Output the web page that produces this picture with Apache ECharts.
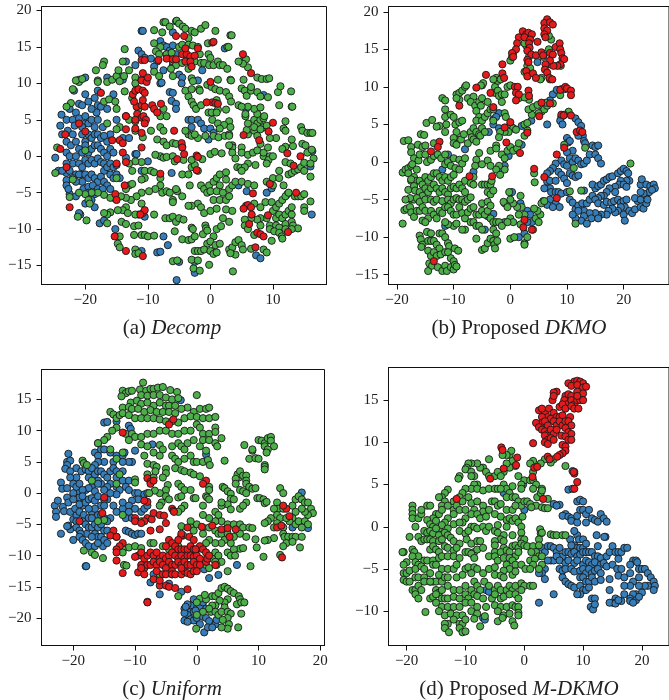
<!DOCTYPE html>
<html><head><meta charset="utf-8">
<style>html,body{margin:0;padding:0;background:#fff}#c{width:669px;height:700px}</style>
<script src="https://cdn.jsdelivr.net/npm/echarts@6/dist/echarts.min.js"></script></head>
<body><div id="c"></div>
<script>
const aBlue=[[-22,-1],[-21.5,-2.5],[-20.8,-2.5],[-20.3,-4.5],[-19.5,-4.2],[-19.5,-5],[-16,-2.5],[-15.5,-3],[-15,-2.5],[-14.5,-3],[-18.5,-5.2],[-17,-2],[-16,1],[-15.5,0.5],[-22,-3],[-21,-2.5],[-20,4.5],[-18.2,6],[-17.2,4],[-16.5,2],[-16,3],[-23,-2.3],[-18,9],[-22.5,-5.2],[-24.8,-0.2],[-24.3,-2],[-23.7,-2],[-23.7,3],[-24,4.2],[-23.8,5.7],[-23,5],[-22.8,3.5],[-23,2],[-23,0.5],[-23,-1],[-22.5,-2],[-22.5,0],[-22.3,1.5],[-22,3],[-22,5],[-22.5,6.5],[-21.7,4.2],[-21.5,6],[-21,7.2],[-20.5,7],[-20,8.5],[-19.5,7.5],[-19,6.5],[-18.5,8],[-18,7],[-17.5,6.8],[-21,5.2],[-20.5,4],[-20,5.5],[-19.5,4.5],[-19,5],[-18.5,4],[-18,5],[-20.5,3],[-20,2],[-19.5,3],[-19,2.5],[-18.5,3],[-18,3],[-17.5,2.5],[-17,2.8],[-21.5,2],[-21,1],[-20.5,0.5],[-20,1.5],[-19.5,0.5],[-19,1],[-18.5,1.5],[-18,1.5],[-17.5,1],[-17,0.5],[-16.5,0],[-21.5,0],[-21,-1],[-20.5,-1.5],[-20,-0.5],[-19.5,-1],[-19,-0.5],[-18.5,-1],[-18,-0.3],[-17.5,-0.8],[-17,-1],[-16.5,-1.5],[-16,-1],[-15.5,-1.5],[-15,-1.2],[-20,-2.5],[-20.5,-3.5],[-19.5,-3],[-19,-2.5],[-18.5,-3],[-18,-3.5],[-17.5,-2.8],[-17,-3.5],[-16.5,-4],[-16,-4.5],[-18.8,-4],[-18,-4.5],[-17.2,-4.5],[-23,-3.3],[-23,-4],[-22.7,-4.5],[-21.5,-3.5],[-21.5,-5.5],[-20,-6.5],[-19,-6],[-18.5,-7],[-20.8,-8],[-21,-7.8],[-17.7,-9.2],[-17,-8.8],[-21.8,9],[-21,10.5],[-20,10.8],[-16.5,6.5],[-15.5,8.5],[-13.5,5.5],[-15,5],[-14,2.5],[-13,2.5],[-13.5,-0.2],[-12,0.3],[-11.8,0.3],[-10,-0.7],[-11.5,14.5],[-11,14],[-10.5,13.5],[-9.5,13.4],[-8,15.8],[-7.5,15.2],[-7,15],[-6.5,14.5],[-6,15.2],[-5.5,14],[-8.5,13],[-9,12.3],[-12,12.5],[-13.5,13],[-11,17.2],[-10.8,17.2],[-6,17],[-5.5,18.5],[-7.5,11.8],[-6,12.5],[-5,11.2],[-4.5,10.8],[-4.6,10],[-2,10.4],[-8,10],[-7.8,10.1],[-6.5,8.8],[-6,8.7],[-6.2,7.6],[-5.5,7.2],[-5.5,6.5],[-3.5,5],[-3,5],[-2,5],[-1.5,4.5],[-1,3.8],[0,3.8],[0.5,3.2],[-0.3,2.3],[-3,4],[-14,10.5],[-14.5,11],[-16.5,10.8],[-6.2,-2.3],[-2.5,-16],[-2.5,-14.5],[-5,-14.5],[-11,-13],[-8.5,-13.2],[-8,-13.1],[-6.8,-12.2],[-7.5,-11],[-15.2,-10],[-5.4,-17],[4.5,-4],[5.8,-4.8],[9,-5],[9.8,-4.4],[12.3,-5.2],[7.3,-13.6],[8,-14],[5.7,6.5],[8.5,8.4],[16.2,-8],[16.3,0.7],[16,-1.4],[-11.5,-8],[-10.5,-8.3],[-11,-2],[2.3,14.8],[-1.3,11.8]];
const aGreen=[[-7.5,18.4],[-7.2,18.4],[-5.4,18.6],[-5,18.2],[-4.4,17.8],[-4,17.5],[-3,17.2],[-2.5,17],[-1.5,17.5],[-0.8,18],[0.8,17.2],[-9,17.3],[-7.7,17],[-6.5,17.8],[-3.5,16.2],[3.2,16.6],[3.4,16.6],[-9,15.5],[-8,15],[-8.7,14.4],[-8.2,14],[-7,14],[-6.2,14.2],[-5,15],[-4.5,15.3],[-3.5,15.3],[-2.8,15.2],[-2,15],[-1.7,14],[-0.4,15.5],[-0.3,14],[0,13.5],[-2.5,13],[-1.5,12.8],[-1,12.8],[-0.2,12.5],[0.5,12.5],[1.2,13],[1.5,12.5],[2,12.5],[2.7,12],[2.7,15],[2.9,15],[-6,13],[-5.5,12.5],[-6.3,12],[-4.5,12.8],[-3.5,12],[-13.7,14.7],[-14,13],[-17,13],[-17.2,12.5],[-18.3,11.8],[-21,10.2],[-21.5,10.4],[-20.5,10.6],[-18,10.4],[-18,10.2],[-16.5,10.2],[-15.7,10.5],[-15,11],[-14.7,11.8],[-14.5,10.3],[-13.8,11],[-13,11.8],[-12,10.8],[-12,10],[-11,10.5],[-9,11.6],[-8.2,11],[-6,11],[-3,10.7],[-2.8,10.3],[-1.8,9.2],[-1.7,9],[-0.5,9.8],[0.2,9.5],[0.8,9.2],[1.5,9],[2.5,8.8],[3,8.2],[3.3,7.5],[-22,9.2],[-22.3,7.3],[-23,6.8],[-17,7.5],[-16.2,7.8],[-15.2,7.5],[-13.7,8.9],[-12.5,8],[-11.5,6.5],[-3.5,8.2],[-3,7.5],[-2.7,7],[-2.3,6.5],[-1.5,7],[-0.3,6],[0.2,6],[1.2,6.4],[2.5,6.4],[-16.5,4.5],[-15,6.5],[-14.5,4],[-13,5],[-12,4.8],[-15,3.7],[-12,3.5],[-10.8,2.6],[-9.5,3.5],[-8.5,2.3],[-7.5,2],[-7,1.5],[-6,1.8],[-5.5,1.7],[-4.5,1.3],[-3.5,3],[-3,2.8],[-2,2.5],[-0.8,2.8],[0.5,2.8],[1.3,2.6],[2.3,2.8],[3,3],[3.5,1.5],[3.5,1.2],[-8,0],[-8.8,0.2],[-7.5,-0.2],[-7,-0.1],[-6,0],[-5.7,-0.7],[-4.3,-0.5],[-3,-1.5],[-2.5,-1.2],[-1.3,-0.4],[0,0.3],[0.7,0.6],[1.8,0.4],[3.5,0.5],[4,-0.3],[4.3,-1.5],[4.8,-1.6],[5,1.2],[5,0.5],[6,0.2],[6.8,0.5],[7.5,0.8],[8.5,0],[9.5,0],[9.3,-0.5],[9,-1],[7.2,-1.2],[6,-1],[5.5,-1.5],[5,-2],[-11,-0.8],[-12,-0.7],[-13,-1],[-12.5,-2],[-10.5,-2],[-9.5,-2],[-9,-2.2],[-10.5,-3],[-11,-3.2],[-13,-4],[-12.5,-3.8],[-8,-3],[-8,-4],[-7.7,-5],[-7,-4.8],[-6.5,-5],[-8.8,-4.5],[-9.8,-4.8],[-11,-5],[-11.8,-5.5],[-12.7,-6],[-13.5,-5.7],[-14.3,-5.5],[-15.5,-5.7],[-16,-5.7],[-17,-5.3],[-18,-5],[-19,-5],[-20,-5.2],[-21,-5],[-22.5,-5.6],[-19.5,-6],[-19.3,-6.5],[-6,-6],[-5.3,-4.8],[-4.5,-2.5],[-3.5,-2.5],[-3.3,-4],[-1.5,-4],[-1,-4.5],[-0.5,-5],[-0.2,-4],[0.5,-3.5],[1,-3],[1.5,-2.5],[2.5,-2.2],[2.5,-3.2],[1.5,-4],[0,-4.8],[1,-4.8],[2,-5],[3,-4.5],[3.5,-4],[4,-3.5],[5,-3.5],[6,-3.8],[7,-4],[0.5,-6],[1.5,-6],[2.5,-6],[3,-5.5],[-2,-6.5],[-3,-6.8],[-3.5,-6.8],[-1.5,-7],[-1,-7.8],[0,-7.5],[1,-7.2],[2.5,-7.3],[3.5,-7.5],[-9,-8],[-13.5,-7],[-14,-7.4],[-14.8,-7.4],[-13.2,-7.8],[-12,-8],[-16,-7.7],[-16.5,-8],[-17,-7.8],[-21.2,-8.3],[-19.8,-8.8],[-16.5,-9.2],[-14.2,-9],[-13.5,-9.3],[-12.2,-9.6],[-11.5,-9.5],[-7.2,-8.5],[-6.5,-8.5],[-6,-8.3],[-5.5,-9],[-5,-8.5],[-4.3,-8.7],[-3,-9.8],[-2.8,-10],[-0.8,-9.5],[-0.7,-9.9],[1,-10],[1.7,-9.6],[2,-8.5],[3,-9],[-5.7,-10.3],[-14.5,-11],[-14.8,-12],[-14.5,-12.5],[-12,-12.8],[-12.2,-10.8],[-11,-10.8],[-10.5,-10.8],[-10,-11],[-9,-10.9],[-4.5,-11.4],[-3.5,-11.5],[-3,-11.4],[-2.5,-11],[-1.2,-10.7],[-0.5,-10.2],[0.5,-11],[-0.5,-12],[0,-11.7],[0.8,-12.2],[1.5,-12],[-2.5,-13],[-2,-13],[-1.5,-13],[-1,-12.8],[0,-13],[0.5,-13.4],[1,-13.2],[3,-12.8],[3.5,-12.5],[4,-11.8],[4.5,-11.5],[5,-12.2],[5.2,-12.8],[6.5,-12.7],[4,-13.5],[3.2,-13.3],[8.5,-12.8],[9,-13.2],[-6,-14.4],[-5.3,-14.3],[-3,-14.2],[-2,-14.3],[-2.7,-15.4],[-1.7,-15.7],[-0.2,-14.9],[3.6,-15.8],[-12,-13.4],[-11.5,-13.3],[-5.5,-4.5],[7,-6.5],[8,-7],[8.8,-6.3],[9.8,-6.3],[10,-7.5],[10.5,-7],[11,-6.5],[11.5,-6],[12,-5.5],[12.5,-5],[13.5,-5.5],[14,-5.5],[14.5,-5.5],[15,-5.2],[16,-6.2],[15,-7],[15,-7.5],[10.5,-8.5],[11,-8],[11.5,-8.5],[12,-8],[12.5,-7.5],[13,-7],[13,-8],[9,-8.5],[8,-8.5],[7.5,-8.7],[6.5,-8.5],[5.5,-8.7],[5.5,-9.5],[6,-10],[8,-9.5],[9.5,-9.5],[10.5,-9.5],[11,-9.8],[12,-9.3],[13,-9],[13.2,-9.5],[14,-9.9],[9.5,-10],[10.2,-10.3],[11,-10.5],[11.4,-11],[11.5,-11.3],[9.8,-11.6],[13,-10],[12,-10],[7,-10.8],[9,-3.5],[10,-3],[11,-3],[11.7,-4],[10,-4],[12.5,-2.5],[13,-2.3],[13.5,-2],[14,-1.8],[14.5,-1.5],[15,-2],[16,-2.8],[15,-0.9],[16.5,-0.3],[16,-1],[15.5,0.5],[16.2,0.9],[14.7,1.7],[15.2,1.5],[13.2,1.4],[12,1.3],[11.5,1],[10,0],[12,-0.8],[12.8,-1],[11,-2],[10.5,2.5],[12,4.8],[11.7,3.8],[12,3.5],[13,2.3],[14.5,4],[14.7,3.5],[15.5,3.2],[16,3.2],[16.3,3.2],[6,3],[7,3.5],[5.8,3.6],[5.6,5.5],[5.6,5.8],[7,5],[7.5,4.5],[8,5],[8.5,5.2],[8.5,4],[9,4.2],[6,4.5],[7,4],[8,3.7],[8.6,5.5],[7.5,5.8],[7,6.5],[8,6.7],[6,6.8],[4.5,7],[5,6.8],[3,1.5],[5,9.3],[5.5,9],[5.8,8.3],[6.5,9],[6.5,9.5],[7.5,8.8],[8,8.2],[9.2,8.1],[10.8,8.8],[11.2,9.6],[12.9,8.9],[11,7],[13,6.8],[13.1,6.8],[7.5,10.8],[8.2,10.6],[9,10.6],[9.4,10.7],[3.2,10.5],[3.3,10.4],[5.3,10.5],[6,12.2],[5,13],[5.7,13.3],[5.2,12.7],[4.5,13],[1.2,10.5],[-4,9],[-3,9.2],[-7.5,6.5],[-8,5.5],[-7,5.5],[-8,4],[-7.5,3.5],[-4,3.5],[-2.5,3],[1,7.7],[1,6],[0.3,5],[1.2,4.5],[3,4.8],[2.2,4.3],[3.2,4],[1.5,3.8],[3,2.8],[-15,-3],[-13.5,-4.5],[-11,-6.5],[-4.5,-5.5],[-2,-2],[-3,-0.5],[-6,-6.3],[8.5,0.5],[9.2,1.2],[8,1.7],[7.5,2.8],[9.5,2.5],[-22,-3.2],[-24.5,1.2],[-24.8,-2.3],[-20,0.8]];
const aRed=[[-24,1],[-23.2,3],[-23,-1.5],[-22.5,-7],[-20,3.4],[-21,4.5],[-17.5,8.7],[-15.7,2.2],[-14.5,2.2],[-14,1.8],[-13.5,-0.8],[-14,0.5],[-15,-1],[-15.2,-5.2],[-15,-6],[-13.7,-4],[-15.3,-11],[-13.5,-13],[-10.8,-13.7],[-10.8,-7.8],[-10.5,-7.4],[-11.2,-8],[-13.5,3.7],[-13.5,5.5],[-12,3.8],[-11,3.2],[-11.7,5.8],[-11,5.3],[-10.7,5.5],[-10.3,5],[-12,5],[-10.5,4.5],[-11.8,6.8],[-11,7],[-10.5,6.8],[-9.3,7],[-9,6.5],[-8.5,6],[-7.9,7.2],[-12.4,8.5],[-12,9],[-11.5,9.2],[-10.8,9],[-10.5,8.7],[-10.8,7.7],[-12.2,7.5],[-11,10.4],[-10.2,10.2],[-10,10.8],[-10.8,11.4],[-8.3,13.2],[-7,13.4],[-6,13.3],[-5.5,13.3],[-4.5,14],[-3.8,14],[-4,14.8],[-3.2,13.7],[-2.5,13.8],[-4,13],[-3.2,13],[-3,12.3],[-5.5,16.5],[-4.2,16.5],[-2,14.8],[0.3,15.6],[0.5,15.7],[-11,13.2],[-10.5,13.2],[5.2,14],[6.5,11.4],[0,10.2],[0.3,7.4],[0.8,7.3],[1.2,7.2],[-0.6,7.4],[-5.8,3.5],[-4.6,1.8],[-4.5,1.2],[-4.2,0.3],[-5.3,-0.4],[-2.2,0.1],[-2,-0.1],[-2.2,-1.9],[-8,-2.4],[-11,1.2],[5.3,2.9],[7.8,2.2],[9.3,3.4],[10,4.6],[12.3,0.4],[13.3,-1.3],[14.4,0],[13.7,-5],[5.7,-6.8],[6,-6.7],[6.5,-7],[6.6,-8],[6.8,-5.1],[5.3,-7.2],[9.2,-8.1],[9.5,-3.8],[12.4,-10.4],[7.5,-10.5],[8,-10.7],[8.5,-11],[7.2,-12.5],[6.2,-9.3]];
const bBlue=[[9,9.7],[9.6,9.7],[7.5,9],[7,8.2],[9,6],[8.8,5.5],[9.2,5],[11.5,5.8],[12,5.3],[12.5,4.8],[12.8,3.5],[13,2.8],[13.2,2.5],[10,3.2],[10.2,2.6],[10.5,2.8],[11,1.5],[10,1.3],[10.5,0.5],[9,0.2],[9.5,-0.3],[10,-0.5],[11,0],[11.5,0.5],[12,0.2],[12.5,-0.3],[13,-0.2],[13.5,0.2],[14,1],[14.5,2.2],[15,2],[15.5,2.2],[15,1],[15.5,0.5],[16,-0.2],[8,-0.2],[7.5,-0.8],[7,-1.2],[6.5,-1.5],[8.5,-1.3],[9,-1.7],[9.5,-2.2],[10.5,-1.5],[11,-1.8],[11.5,-2],[12,-1.8],[6.5,-2.6],[7,-2.5],[8,-2.5],[7,-3.5],[7.2,-4],[8,-4],[8.5,-4],[9,-4.2],[6,-3.5],[7,-5],[6.5,-5.7],[8,-5.5],[8.7,-6],[5.8,-5.2],[10.5,-5],[11,-5.4],[11.5,-6.3],[12,-5.8],[13,-3.8],[12.7,-5.5],[13,-6.5],[12,-6.5],[13.5,-5.5],[14,-5],[14.5,-4.5],[15,-3.5],[14.5,-3],[15.5,-3.2],[16,-3],[16.5,-2.5],[17,-2.3],[17.5,-2],[18,-1.9],[19,-1.5],[19.5,-1.2],[20,-0.9],[20.5,-1.2],[20.8,-1.5],[21,-2.5],[20.5,-2.5],[19.5,-2.5],[19.2,-3],[20,-3],[20.5,-3.3],[18.5,-3.3],[18.5,-4],[17.5,-3.5],[17,-4],[16.5,-4.5],[16,-4.5],[15.5,-4.8],[15,-5],[15.5,-5.5],[16.5,-5.7],[17,-5.3],[17.8,-5.4],[18.3,-5.2],[19,-5],[19.5,-5.4],[20,-5.2],[20.5,-5],[20.2,-6],[19.5,-6],[19,-6.5],[18.5,-6.7],[18,-6.2],[17.3,-6.5],[17,-7],[16,-7],[15.5,-7.2],[15,-6.8],[14,-6.8],[14.3,-7.5],[13,-7.2],[12.5,-7.8],[11.5,-7.5],[11,-7],[13.5,-8.2],[15.5,-7.5],[20,-7],[20.2,-7.8],[21,-6.5],[21.5,-6.8],[22,-6.3],[22.5,-5.2],[22,-4.8],[23,-5],[23,-6],[23.5,-6.2],[24,-5.5],[24,-4.5],[24.5,-4],[23.5,-4.2],[23,-4],[23,-3],[23.2,-2.3],[24,-3],[24.7,-3.2],[25.3,-3],[25.5,-3.5],[25,-3.7],[24.2,-5],[12,3.5],[10,-2.8],[10,-4],[7.5,-6],[0.5,14.5],[4.8,13.3],[7,13],[8.2,9.6],[6.5,5],[-2,6.5],[-3,5.7],[-3,5],[-2.5,6],[-3.8,4],[-2,4.5],[0.5,4.5],[2,4.8],[3.7,5.5],[-8,1.7],[2,2.3],[-11,1],[-6.5,-1.3],[-1,-0.5],[-1.5,-1],[-0.3,0.8],[-12,-1],[-11.5,-8.5],[-3,-6.9],[-4,-7.2],[-1,-8],[-4.5,-9],[1.5,-10],[2.5,-9.5],[3.8,-8],[3,-6.5],[1.8,-5.5],[3.5,-7],[0.3,-4],[3,-8]];
const bGreen=[[-19,-1.4],[-18.5,-1],[-18,-0.8],[-18,-1.5],[-17.5,-0.5],[-18.8,2.8],[-18,2.9],[-17.5,2],[-17.5,1.3],[-17,0.5],[-17.3,-0.3],[-16.5,-1],[-16.2,0.2],[-16,1],[-16.3,2.3],[-15.8,3.7],[-15.2,3.6],[-15.5,2],[-15,2.2],[-15,1],[-14.7,0],[-14,0.3],[-13.5,0.8],[-13.5,2.5],[-12.8,1],[-12.2,0.5],[-11.5,1],[-11.5,-0.3],[-11,0],[-10.5,-0.5],[-10,0.5],[-9.7,-0.8],[-9,-1],[-9,0.3],[-8.5,-0.2],[-8,0.5],[-17,-2],[-17.5,-2.5],[-16.5,-2.5],[-16,-2.5],[-15.5,-3],[-15,-2],[-14.5,-2.5],[-14,-2],[-13.5,-1.5],[-13,-1.5],[-12.5,-2],[-12,-2.5],[-11.5,-2],[-11,-2.5],[-10.5,-2],[-10,-1.7],[-18,-3.7],[-17,-3.2],[-16.8,-3.8],[-16,-4],[-15.5,-4.5],[-15,-3.5],[-14.5,-4],[-14,-3.5],[-13.5,-3],[-13,-3.5],[-12.5,-4],[-12,-3.5],[-11.5,-4],[-11,-4.3],[-10.5,-3.5],[-10,-3.3],[-9.5,-3.5],[-9,-3],[-8.5,-3.5],[-8,-2.5],[-8,-4],[-17.5,-5],[-17,-5],[-16.5,-4.8],[-16,-5.3],[-15,-5],[-14,-5],[-13.5,-5.3],[-13,-5],[-12,-5.2],[-11,-5],[-10.5,-5.5],[-10,-5],[-9.5,-4.8],[-9,-5],[-8.5,-5],[-8,-5.3],[-7.5,-5],[-7,-4.7],[-18.7,-6.4],[-18.3,-6.2],[-17.7,-6],[-17.5,-6.7],[-17,-7.3],[-16.5,-6.5],[-16,-6.5],[-15.5,-6],[-15,-6.5],[-14.5,-7.5],[-14,-6.5],[-13.5,-7],[-13,-7.5],[-12.5,-6.5],[-12,-6.8],[-11.5,-6],[-11,-6],[-10.5,-6.5],[-10,-7],[-9.5,-7],[-9,-6],[-8.5,-6.8],[-8,-7.5],[-7.5,-6.7],[-7,-6.2],[-6.5,-6],[-6,-7],[-5.5,-7],[-5,-6.5],[-4.5,-7],[-4,-6.5],[-3.5,-7.5],[-19,-8.2],[-15.5,-7.8],[-15,-8],[-10,-8.5],[-9.5,-8.2],[-11,-8.3],[-11.5,-8],[-8,-9],[-8.5,-9],[-7,-8],[-6.5,-8],[-6,-8.5],[-5.5,-8.5],[-5,-9],[-3,-8],[-3,-9],[-2.5,-8],[-2,-8],[-1.5,-8.5],[-14.7,-9.3],[-14,-9.5],[-16,-9.8],[-15.8,-10.3],[-15.5,-11],[-15.7,-11.3],[-14.5,-10.5],[-14,-10.5],[-13.5,-10.5],[-13,-11],[-12.5,-9.5],[-12,-9.5],[-11.5,-10],[-11,-10.8],[-10.8,-11.2],[-12.5,-11.5],[-14.5,-11.8],[-14,-12.5],[-13.5,-12],[-13,-12.5],[-12.3,-12.3],[-11.5,-12],[-11,-12],[-9.8,-11.5],[-9.2,-11.8],[-10.5,-12.8],[-10,-13.2],[-14.5,-14.5],[-14.3,-13.5],[-13.8,-13.8],[-12.8,-14],[-12,-14.5],[-11.5,-13.8],[-11.2,-14.5],[-10.5,-14],[-10,-14.3],[-9.8,-13.7],[-9.5,-13.9],[-6,-10.2],[-5,-11.7],[-4.5,-11.5],[-4,-10.8],[-3.5,-10.2],[-3,-10.5],[-2.8,-11],[-2.7,-11.5],[-2.5,-9.5],[-2.3,-10.5],[0,-10.2],[0.7,-10],[2.5,-10.8],[2.5,-11],[3,-10],[4,-9],[4.5,-7.5],[5.3,-7],[5,-8],[4.8,-6.5],[4.2,-6.2],[2,-6],[1.2,-6],[0.5,-5.5],[0,-5],[-1,-5.5],[-1.2,-5.3],[-0.5,-6],[-0.2,-4],[1.8,-4.5],[2.5,-7],[1.5,-7],[0,-7.5],[0.5,-8],[-0.5,-8],[1.8,-8.3],[5.5,-5.5],[6,-5.2],[11.5,-8.2],[-12,8.5],[-11.5,8.2],[-11.5,7],[-11.5,6],[-11.3,5],[-12.5,4.8],[-13,4.7],[-14.8,5.2],[-13.8,5.6],[-11.5,4],[-10.5,6.3],[-10,6],[-9.7,5],[-9,5.3],[-8.5,5.5],[-9.5,4],[-9,3],[-10,3.2],[-10,2.5],[-9.5,2.3],[-8.7,3],[-8.2,3.7],[-7,4],[-6.8,3.3],[-6.5,4.5],[-6,4],[-5.5,3.7],[-5.3,3.5],[-5,4.5],[-4.5,4],[-7.5,2.5],[-6.5,3],[-6,2.7],[-9.5,9],[-9,9.2],[-9,8.3],[-9.5,8.5],[-8.5,9.5],[-8,10],[-7.8,10.2],[-7.5,8.5],[-6.5,8.7],[-7,8],[-6.2,7.5],[-5.5,8],[-5,8.5],[-5.2,7.5],[-6,6.8],[-5.5,6],[-6,5.5],[-5,5.5],[-4.5,6],[-4,6.5],[-3.5,7],[-3,7],[-5,10.2],[-4.8,10.5],[-5.2,10.2],[-2.7,10],[-2.5,11.2],[-2.2,10.8],[-3,11],[-1.7,11],[-2.7,9.2],[-2.2,9.5],[-2,8.8],[-1.5,9],[-1,9],[-0.5,10],[0,10.2],[-4,8],[-3,5.5],[-1.5,8],[-1,6.5],[-0.8,6],[0,5],[0.5,4.5],[1,4.3],[-0.3,4],[-1,4],[-1.8,4],[-2,3.3],[-2.5,2.2],[-3.5,1.5],[-2.5,1.8],[-1.5,1],[-1,0.5],[-0.5,1.5],[0,2],[0.5,1.5],[1.2,1.8],[1.5,2.5],[-1,-1],[-2,-0.5],[-2.5,-1],[-1.8,-1.7],[-5.5,1.2],[-6,0.3],[-6.2,-0.5],[-5,-0.3],[-4,0.2],[-3.5,-0.5],[-6.5,-2],[-7,-2.8],[-6.5,-3],[-5,-3],[-4.5,-3],[-4,-3],[-3.5,-3],[-3.3,-2.5],[-4,-4],[-3.5,-4.3],[-3,-3.8],[-5,-5.5],[-4,-5.3],[-3.5,-5.8],[2.5,3.5],[3,4.2],[2.5,5],[3,5.2],[3.8,6.3],[3.2,7],[4,7.3],[4.8,7.6],[5.5,6.7],[5,6.5],[6,7],[6.5,7.5],[3.3,8.3],[8.8,8.9],[10.3,6.7],[9.5,6.3],[9.5,2.3],[12.5,-3.8],[13.2,1.9],[11.2,-0.8],[10.5,-3.9],[21.2,-0.2],[2.5,12],[3,12.8],[3.3,14],[3.5,12.5],[5.5,11.2],[5.3,11],[7,11],[5.8,14],[7.2,16.3],[6.8,16.8],[6.8,15],[2.8,15.5],[2.5,15.8],[0,13.5],[0.3,14],[8.9,12.8],[9.3,13.7],[1.5,8.5],[2.5,8.6],[7.5,7.8],[6.3,7.9],[4.2,-1.5],[4.3,-2.7],[-17.5,-2.3],[-17.7,-4.8],[-18.5,-5]];
const bRed=[[6.5,19],[6,18.5],[7,18.6],[7.5,18.3],[6,17.8],[6.5,17.5],[6,17],[6.2,16.6],[2.2,17.4],[2.8,17],[3.2,17.2],[3.8,17],[1.5,16.6],[2.5,16.6],[3.5,16.3],[1.2,15.8],[3.3,15.8],[3.4,15.2],[4.8,16],[1,15],[0.3,14.5],[0.5,14],[3,14.8],[3.7,14.3],[4.5,14.2],[5.5,14.6],[5.8,14.2],[7,14.5],[7.5,14.3],[8,15.3],[8.7,15.8],[8.8,15],[9,14.5],[9.2,13.8],[9.5,13.7],[8.8,13],[8.3,12.8],[7.6,12.8],[7,13.5],[6.2,13],[6.1,12.3],[6.5,11.9],[3,13.6],[3.2,13.3],[2.8,12.1],[3,11.4],[4,11.8],[4.5,11.2],[6.9,11.2],[7.4,11],[-1.4,13],[-1.4,11.8],[-1.1,11.2],[-4.3,11.6],[-3.5,9.2],[0.8,10],[1.3,10],[1,9.2],[1.5,9],[1,8.2],[3.2,9.5],[3.3,8.8],[-6,9.9],[5.5,7.9],[5.1,6.1],[7,7.8],[8.8,9.6],[9.7,10],[10,9.8],[10.7,9.5],[10.7,8.9],[-9,7.5],[-3,7.3],[0,5.3],[-1,4.6],[3,3.9],[-0.7,2.6],[1.7,1.2],[8.2,1],[9.5,1.9],[-7.2,-1.9],[-3.2,-1.9],[4.2,-0.9],[6,-2],[8.2,-4.8],[2.5,-7.7],[2.3,-8.7],[3.8,-9],[-13.5,-13.2],[-12.5,2.7],[-12.8,2],[-14,1.4],[9,6.3],[9.4,6.2],[10.7,6.2],[11.7,4],[12.3,4.2],[12.7,4]];
const cBlue=[[-20,-4.2],[-20.5,-5.8],[-19.5,-3.5],[-18.5,-2],[-17,-3],[-16,-3.5],[-15.5,-3.5],[-17.8,-6.5],[-16.5,-6.5],[-16,-7],[-15.2,-8.5],[-19.5,2.5],[-19,0.2],[-20,0],[-17,1],[-16.5,0.3],[-15.5,1.5],[-14.5,-1],[-13.5,-2],[-13,-3],[-12,-2.5],[-13,1],[-14,1.5],[-15,-1],[-16,2],[-18,0.5],[-17.5,0.8],[-19,-0.7],[-23,-2],[-22.5,-1.2],[-22.8,-3],[-22.8,-3.8],[-20.8,6.3],[-21,5],[-20.5,5.2],[-21,4.5],[-21.3,3.9],[-20.5,3.5],[-19.5,4],[-18.7,3.5],[-18,3.8],[-17.5,3.5],[-20.5,2.5],[-20,1.5],[-19.5,1],[-19,1.5],[-18.5,0.5],[-22,1.7],[-21.8,0.7],[-21,0.8],[-21,-0.7],[-20.8,-1.5],[-20,-1],[-21.7,-2.2],[-21.5,-2.9],[-20.5,-3],[-19.7,-2.5],[-19,-1.8],[-19,-3],[-18.5,-0.5],[-18,-1.5],[-17.5,-1],[-17,-0.8],[-16.5,-1.2],[-16,-0.5],[-15.5,-2],[-15,-2],[-16.5,-2.5],[-17.5,-2.5],[-18.3,-3.5],[-17.5,-4],[-17,-4],[-18.5,-4.5],[-18,-5],[-19.5,-4.5],[-19.5,-5.5],[-19,-6],[-18.8,-6.5],[-17.5,-5.5],[-17,-5.5],[-16.5,-5],[-16,-5.5],[-15.5,-5],[-15,-4],[-14,-4],[-14.5,-4.5],[-22,-6.5],[-20.8,-5.2],[-21,-5.3],[-20,-7.5],[-19,-7],[-18.5,-7.5],[-18,-8],[-17.5,-8.5],[-17,-7],[-16.5,-8.5],[-16,-8],[-15.5,-7],[-15,-7.5],[-15,-6],[-14.5,-6],[-14.5,-8],[-18,-11.7],[-17.9,-11.7],[-16.5,6.5],[-16,6],[-15.5,7],[-15,7],[-14,6.5],[-13,6],[-12,6],[-11.7,6.5],[-13.5,5],[-15,5],[-16,5],[-16.5,4.5],[-17,4],[-17.5,2.5],[-16.5,3],[-16,3.5],[-15.5,3.5],[-15,3],[-14.5,2.5],[-14,3.5],[-13.5,4],[-13,3.5],[-12,3.5],[-14.5,1],[-15,0.5],[-16,1.5],[-13,2.5],[-12,2],[-11,2],[-11.5,1],[-12.5,0.5],[-13,-0.2],[-14,0],[-11,0.5],[-10,0],[-9.5,0],[-8.5,-0.2],[-8,0],[-9.5,-1],[-10.5,-1.2],[-12,-1.5],[-11,-2],[-10,-2.5],[-9,-3],[-8.5,-2.5],[-8,-2],[-11,-3],[-11.5,-4],[-10.5,-4],[-11.5,-6],[-11,-6.2],[-10.5,-6.5],[-10,-6.7],[-9.5,-6.5],[-9,-6.5],[-10.5,5],[-10,6.8],[-11,5],[-12,5],[-15,11.3],[-14.5,11.4],[-13,11.5],[-11,10.8],[-10.7,10.3],[-7.2,7.8],[-2.6,14.9],[1.5,6.2],[17,0.1],[15.5,-5.5],[17,-5],[18,-5.6],[2,-13.6],[3.5,-13.1],[6.5,-11.5],[-6,-16.2],[-7.5,-14.3],[-4.5,-14.5],[-7,-13],[-2.5,-15.8],[5,-15.3],[1,-10.8],[1.2,-12.2],[-0.5,-17],[0,-18],[-1,-18],[-1.5,-17.8],[-2,-18.5],[-1,-19],[-0.5,-19],[0.5,-18.2],[1,-17.5],[1.5,-18.5],[-1.5,-19.5],[-1,-20.2],[-0.5,-20.4],[0,-20],[1,-19.8],[1.5,-20],[2,-20.5],[3,-21],[3.2,-20.3],[-2,-20.4],[-1.5,-20.6],[0.5,-21],[1.2,-22.3],[1.8,-21.5],[2.5,-21.5],[-2,-19.2],[-1.8,-18.2],[-0.2,-18.8]];
const cGreen=[[-8.7,17.7],[-12,16.4],[-11.5,16],[-11,16.3],[-10.5,16.4],[-9.2,16.6],[-8.2,16.4],[-7.5,16.7],[-7,16.7],[-6.3,16.9],[-5.5,17],[-4.3,16.5],[-3.2,16.2],[-12.2,15.5],[-9,15.7],[-8,15.6],[-7,15.7],[-6,15.7],[-5,15.3],[-4,15],[-3,15.2],[0,15.7],[-10.7,14.5],[-9.7,14.8],[-9,14.3],[-8,14.5],[-7,14],[-6,14.5],[-5,14],[-4.5,14],[-3.5,14],[-1.5,13.7],[-2.5,13.5],[-12,13.7],[-11,13.8],[-10.5,13.5],[-9.5,13.5],[-8.5,13],[-7.5,13.3],[-6.5,13],[-5.5,13],[-4.5,13],[-3.5,12.8],[-0.5,13],[0.5,13.5],[1.5,13.5],[2,13.7],[-14,13],[-13.5,12.6],[-13,12],[-12.5,12.5],[-12,12.8],[-11,12.5],[-10,12],[-9,12],[-8,12],[-7,12],[-6,11.8],[-5,11.5],[-4,11.5],[-3,11.3],[-2,12],[-1,12.3],[0,12.2],[1,12],[2,12],[3,12.2],[-13,10.5],[-13.7,10],[-14.5,9],[-15,8.5],[-16,8],[-11.5,9.5],[-10.5,9.5],[-10,9],[-9,9],[-8,9.5],[-7,9.5],[-6,10],[-5,10],[-4,9.5],[-3,9.5],[-2,10],[-1,10],[0,11],[0.5,10.5],[1,9.5],[2,9.5],[3,10.5],[3,9.8],[4,8.8],[-11,8.5],[-9,7.8],[-8,7.5],[-6,7.7],[-5.5,7],[-4,7.5],[-3,8],[-2.5,7.5],[-2,7],[-1.5,8],[-0.5,8.5],[0.5,7.5],[1,8.5],[2,8.5],[3,8],[3.3,7.5],[-8.5,6],[-7,6.5],[-6,6],[-4,6],[-3.5,5.5],[-3,5],[-2,5.5],[-1,6],[-0.5,5],[0,5],[1,5],[1.5,6.8],[1.8,5.3],[2.1,4.5],[4.5,5.2],[-8,4.7],[-7,4.5],[-6.5,4.2],[-5,3.9],[-5,3.2],[-3.5,4],[-2.5,3.7],[-2,3.5],[-1,3.3],[-0.5,3],[0.5,2.7],[-8,3],[-7,2.5],[-6.7,3.5],[-5.5,2.5],[-3,1.5],[-2.5,1],[-2,0.5],[-1,0.5],[-4.7,1.3],[-5,0.5],[-6,0],[-6.8,0.4],[-7.7,0],[-5,-0.5],[-4.5,-1],[-5.7,-1.5],[-6,-2],[-3,-0.7],[-2.5,-0.5],[-2,-2],[-2.5,-2.5],[-3,-3],[-0.5,-0.8],[-0.2,-0.8],[1.5,-0.5],[1.7,-0.7],[2,1],[2,0.5],[2,-1],[4.2,1],[4.5,0.8],[5,0.3],[5.5,-0.1],[5.5,-0.9],[6,-1],[5,-1.8],[4,-2],[5.5,-2.6],[7,-2.5],[8,-1.5],[7.5,-2],[6.8,2.5],[6.6,3],[7,3.5],[6.3,2.3],[6.3,1.5],[7.5,2.8],[8,2.8],[8,2],[8,1.5],[8.5,1],[9,0.7],[9.5,0.8],[7,0.5],[7.5,0.3],[8,0],[9.8,-0.8],[10.2,-0.8],[10.8,-1],[11,-1.6],[11.3,-1.4],[7.7,7.7],[8.5,5.5],[9,6.8],[9.5,5.6],[9,7],[10,5.5],[10,8.5],[10.5,8.4],[11,8],[11,7.5],[11.5,8.8],[12,9],[12,8.4],[12.5,7.5],[11.5,7],[11.3,6.5],[11,4.5],[11,4.2],[11,3.8],[13.5,0.8],[14,0],[13,-1.5],[13.2,-2.5],[12.5,-2.5],[13,-3.5],[13.5,-4],[12,-4],[11.5,-4.5],[11,-4.8],[13,-4.8],[12.5,-5.5],[12.5,-7.2],[11.5,-7.5],[11,-7.6],[15.5,-2],[16,-1],[16.5,-0.5],[17,-1],[17.5,-1.5],[18,-1.5],[18.5,-2.5],[18.8,-3.2],[18,-3.5],[17.5,-3],[17,-2.5],[16,-3],[15.5,-4],[15,-4.5],[14.5,-4],[16,-5],[16.5,-4.5],[17.5,-4.5],[18,-5],[17,-5.5],[14,-5.5],[14,-6.5],[14.2,-7],[14.8,-7],[15.5,-7],[16,-7],[17,-7],[16.7,-8.7],[14.5,-8],[15.5,-7.8],[14,-8.5],[13.5,-9.9],[14,-2.5],[10.8,-10.2],[9.7,-8.7],[9.5,-7.4],[7,-8.9],[7.5,-8.8],[8.7,-11.7],[4,-1.5],[3,-3],[3.5,-3.5],[4,-4.5],[3,-4.5],[2,-4],[1,-3.5],[1,-2],[1,-5.5],[0,-5],[-1,-4.5],[-1,-5.5],[-2.5,-5.3],[-0.5,-6],[1,-6.5],[2,-5.5],[3,-6],[3.5,-6.5],[4,-6.5],[5,-6.5],[5,-5],[6,-5],[7,-5],[7.5,-5.5],[8.5,-5.5],[9,-5.6],[7,-6.5],[8,-7],[6,-7],[5.5,-8],[4.5,-7.5],[4,-8],[3,-8],[2,-7.5],[1.5,-8],[3,-9.5],[3.5,-10],[4,-11],[5,-9.5],[5.5,-10],[6,-9],[6.2,-10],[2.5,-10.5],[3,-11],[3.2,-11.5],[1.5,-11.5],[2,-12],[5,-12.5],[-11,-8.7],[-10,-8.5],[-9,-8.8],[-7.5,-8],[-7,-8],[-5.5,-8.5],[-4.5,-9],[-3,-8.5],[-2.2,-6.8],[-11.8,-11.5],[-11.4,-11.6],[-12,-9],[-12,-9.5],[-15.2,-10.4],[-6,-13],[-4,-13],[-18.3,-9.2],[-17,-9.5],[-16.5,-9.9],[-15,-4.3],[-16,-4.5],[-13,-7],[-12,-3.5],[-9,-4.5],[-13,1.5],[-12.5,3],[-10,2.2],[-10,1.7],[-18.5,5.2],[-18.3,4.8],[-17.8,4.5],[-17,2],[-16,8],[-14,7],[-13,5.5],[-12,6.5],[-3,-16.5],[0.5,-16.9],[1.5,-17],[1.3,-16.3],[2.5,-16.5],[3,-16.5],[3.5,-16],[4,-15.2],[4.5,-15],[5,-15.3],[5.5,-15.7],[6,-16],[6.8,-16.5],[7,-17],[6.5,-17.8],[7.2,-17.5],[7.7,-17.5],[7.2,-19.3],[5,-17],[4.5,-17.5],[3.7,-17.2],[4.5,-18.3],[3,-18],[2.5,-18],[2.3,-19],[3,-19],[3.5,-19.5],[4,-19],[5,-19],[5.5,-19.3],[5,-20],[4.2,-20.3],[5.2,-21],[5,-21.7],[4,-21.5],[6.7,-21.5],[2,-18.5],[1,-19],[0,-19.5],[-0.1,-21.7],[0,-17.5]];
const cRed=[[-8,-17.4],[-8,-17.5],[-6,-14.8],[-5,-14.8],[-4.5,-15],[-3.5,-15.2],[-1.5,-15.4],[-19,-4.5],[-13.5,-6],[-14,-6.8],[-13,-7],[-12,-8],[-12.5,-8.5],[-13,-9],[-13,-9.5],[-13,-10.8],[-12,-12.8],[-8,-1.4],[-8.5,-1.2],[-8,-4],[-8.5,-4.5],[-10,-4],[-10,-4.5],[-9,-4.8],[-7.3,-4.2],[-7,-3.2],[-6,-3.5],[-5.3,-3.6],[-5,-4.8],[-6,-5.8],[-7.5,-6],[-4,-2.5],[-3.8,-2.8],[-3.7,-3],[-8,2.4],[-7.5,1.8],[-7.5,1.5],[-7,2],[-15.3,-3.2],[-15,-0.7],[-4.5,11],[-3.8,11.8],[-12,9.7],[1.5,2],[1,1.5],[-2.5,-6.8],[-3,-7.5],[-1.5,-5.5],[-1.2,-7],[-0.5,-7.5],[-4.5,-7.5],[-4,-8],[-5,-8.5],[-3.5,-8.5],[-3,-9],[-2.5,-9],[-2,-9],[-1.5,-9],[-1,-8.5],[-0.5,-9],[0,-9],[0.5,-8.5],[1,-9],[1.5,-9.5],[-9.5,-10],[-10,-10.2],[-9,-9.5],[-8.5,-10.5],[-8,-10],[-7.5,-9.5],[-7,-10],[-6.5,-9.5],[-6,-10.5],[-5.5,-10],[-5,-10.5],[-4.5,-10],[-4,-9.5],[-3.5,-10],[-3,-10.5],[-2.5,-10],[-2,-10.5],[-1.5,-10],[-1,-10],[-0.5,-10.2],[0,-10],[0.5,-10.5],[-9,-11.5],[-8.5,-12],[-8,-11.5],[-7.5,-11.5],[-7,-11],[-6.5,-11.5],[-6,-11],[-5.5,-11.5],[-5,-12],[-4.5,-11],[-4,-11.5],[-3.5,-11.5],[-3,-11],[-2.5,-11.5],[-2,-11],[-1.5,-11.5],[-1,-11.5],[-0.5,-11],[0,-11.5],[0.5,-11.5],[1.5,-11],[1.7,-10.5],[2,-10],[3,-11.5],[-9.5,-12.7],[-8.5,-13],[-7,-13.8],[-6.5,-12.5],[-5.5,-13],[-5,-13],[-4,-12.5],[-4,-13],[-3.5,-13],[-2.5,-13],[-2,-12.5],[-1.5,-12.8],[-1,-13],[-0.5,-12.5],[0,-12.5],[-2.5,-12],[-9,-12],[-6,-14],[-2.5,-6.5],[2.5,-5.2],[4,-5.8],[5,-5.6],[6.3,-5.8],[5.3,-7],[-0.2,-9],[0.8,-5.4],[15,-3.7],[14.5,-2.5],[14,-2],[13,-5.5],[13.7,-5.2],[13.8,-10.3]];
const dBlue=[[8.2,6.6],[8.5,6.5],[7.5,4.4],[8.2,4.5],[-3.5,4],[0,2],[-0.2,5],[5,2.7],[6,2.6],[5.5,2.5],[7,1.5],[6.5,1.3],[7.5,1.2],[8,1],[8,0.7],[9,0.5],[9,1.3],[9.5,2],[9,3],[9.5,3.2],[10,3],[10,2],[10.5,1.5],[11,2],[10.5,0.5],[11.5,1],[12,0.8],[12.5,0.6],[13,1.5],[13.5,1],[14,0.6],[12.3,-1],[9,-1],[9.3,-1.5],[10,-1.5],[8.5,-2.2],[9,-2.5],[9.5,-2.5],[10,-2.5],[10.5,-2],[13.8,-1.2],[13.6,-1.2],[3,-2.5],[3.5,-3],[4,-2.3],[4.5,-2.3],[5,-2.5],[5.5,-3],[6,-2.5],[6.5,-3.5],[7,-3],[7.5,-3],[8,-3.2],[8.5,-3],[9,-3.5],[9.5,-3.3],[10,-3],[10.5,-3],[11,-3],[11.5,-3],[12,-3.5],[12.5,-3.5],[13,-3.7],[14,-3.5],[14.5,-3],[15,-2.3],[15.5,-3],[16,-3],[16.5,-3],[17,-2.5],[17.5,-2.5],[4.5,-4],[5,-4],[5.5,-3.5],[6,-4],[7,-4.3],[7.5,-4],[8.5,-4.3],[9,-4],[10,-4.5],[10.5,-4],[11,-4.2],[11.5,-4.5],[12,-4.2],[13,-4.5],[13.5,-4.3],[14,-4.7],[15,-4.5],[16,-3.8],[6,-5],[6.5,-5.2],[7,-5],[8,-5],[8.5,-5.3],[9.5,-5.2],[10,-5],[10.5,-5.5],[11,-5],[11.5,-5.5],[12,-5.2],[12.5,-5],[15.8,-5],[16,-5.8],[16.5,-5],[17,-6],[18,-5.5],[18.5,-4],[19,-4],[18,-4.5],[19.2,-4.2],[19.5,-5],[20,-5],[20.5,-5],[21,-5.5],[21.5,-6],[22,-6.5],[22.2,-7],[22,-7.5],[21,-7],[20.5,-7],[19.5,-6],[19.5,-7],[18.5,-6.5],[18,-7],[17,-7],[19,-8],[18.5,-8],[18,-8.5],[19,-8.7],[20,-7.8],[19.5,-8.3],[17,-8],[16.5,-8.8],[18,-8.8],[18.5,-9],[15.5,-8.5],[15,-9],[14.5,-9],[15.5,-9.1],[16,-8.7],[14.5,-7.5],[14.5,-6.2],[3.5,-5],[3,-5.5],[3.5,-6.2],[2.5,-5.5],[6.5,-6],[7,-6.5],[7.5,-6.8],[8,-7],[8.5,-7.2],[9.5,-7],[9.5,-6],[10,-6],[10.5,-6.5],[11,-6.5],[11.5,-6],[12,-6.5],[10,-7.5],[10.5,-7.5],[11,-7.2],[9.5,-8],[9,-8],[11.5,-8.5],[12,-8.5],[11.3,-9.5],[11.7,-9.8],[12,-9.2],[-7,-10.8],[-6.7,-11],[-6.5,-7.5],[-6,-7.7],[2.5,-9],[7.8,-1.5],[8.5,-0.5],[12.5,-2.3],[1.8,-2.8],[5,-8],[8,-2.2],[13,-5.5],[13,-6.3],[4,-4]];
const dGreen=[[7,7.2],[5,8],[4.5,7.6],[3.5,8],[2.8,7.5],[1.5,7.8],[1,7.5],[1.5,6.5],[-2.5,8.5],[-2.2,9],[-3,8.5],[-3.7,8.5],[-2,7.8],[-1.5,7.2],[-2.5,7],[-3,7.5],[-3.5,6.5],[-1,6],[0,5.5],[1,5.5],[1.5,5.5],[2,5],[-0.5,5],[-0.5,4.5],[1.5,4.5],[2.2,3.5],[3,4.5],[2.8,4],[3,4.3],[4,3.3],[-6,8],[-7,7],[-7.5,7],[-8,7.5],[-9,7.5],[-9.5,7.5],[-9.8,7],[-10,6.8],[-9,6.5],[-8.5,6],[-9,6],[-6.5,6.5],[-6,6],[-5,6],[-4.5,6.5],[-4,6],[-3.5,5],[-3,4.5],[-2.5,4],[-2,4.8],[-11,6],[-11.2,5.7],[-8,5],[-8.5,5],[-9,4.5],[-10,4.5],[-10.5,4],[-8,4.5],[-7,4.3],[-6,4.5],[-5,4.5],[-4.5,4.5],[-4,4.5],[-3,3.5],[-2,3.5],[-1.5,3.5],[-1,3],[-0.5,2.5],[0,3],[0.5,3],[1,2.7],[2,2.5],[3,2.3],[3.5,2.2],[4,2.2],[1.2,2.3],[-13,4.4],[-13.5,4],[-14,3.5],[-14.5,3.5],[-13.5,3],[-14,2.5],[-13,2.5],[-12,3],[-11,3.5],[-10.5,3],[-9.5,3.5],[-9,2.8],[-8,3],[-8.5,2],[-7,2.5],[-7,1.8],[-6,2],[-5.5,3],[-5,3],[-4.5,2.5],[-4,2.7],[-3,2],[-2,2],[-1.5,2.5],[-19,2.5],[-19,2],[-19,1.5],[-19,1],[-18,1],[-17.5,1.5],[-17.5,2],[-16.5,2.5],[-16,2.5],[-15,1.5],[-14.5,1.5],[-15.5,1],[-14,2],[-12,2],[-11.5,2.5],[-11,2],[-10,2],[-10,1],[-10.5,0.5],[-12,1.5],[-13,1],[-13.5,0.5],[-9,1.5],[-8,1.5],[-7.5,1],[-6.5,1.2],[-5,1.5],[-4,1.2],[-3,0.8],[-2.5,1],[-2,0.7],[-1.5,1],[-1,0.5],[-0.3,1.2],[-18.5,0],[-16.5,0.8],[-16,0.3],[-15.5,0],[-15,0.7],[-14.5,-0.2],[-14,0.2],[-13,-0.2],[-12,0.3],[-11,0.5],[-9,0],[-8.5,0],[-8,-0.2],[-7,0],[-6.5,-0.5],[-6,0],[-5,-0.5],[-4.5,0.2],[-4.5,-0.7],[-3,0],[-0.5,0],[-0.5,-0.7],[-17,-0.5],[-16.5,-0.7],[-16,-0.5],[-15.5,-0.8],[-15,-0.2],[-14.5,-1],[-13.5,-0.7],[-13,-1],[-11,-0.5],[-10,-0.8],[-9.5,-0.5],[-3.5,-1],[-4,-1.5],[-3.5,-1.7],[-2,-1],[-0.5,-1.5],[-0.5,-2],[0,-1.5],[2.7,-0.3],[2.8,-0.8],[3,-0.7],[4.5,-0.9],[5,-1],[5.5,-1],[6.5,-1],[7,-1],[2.5,-1.5],[-19.5,-1.2],[-18,-1.2],[-17.5,-1.7],[-17,-1.5],[-16.5,-1.5],[-16,-1.5],[-15.5,-1.7],[-14.5,-1.7],[-14,-1.5],[-12.5,-1.3],[-12,-1.7],[-11,-2],[-9.8,-1.5],[-9,-2],[-8,-1.7],[-7.5,-1.7],[-5,-1.7],[-5,-2.2],[-3.5,-2.5],[-2,-2.3],[-1.5,-2.2],[-1,-2.5],[-0.5,-2],[0,-2.2],[0.5,-2.3],[1.5,-2.3],[2.5,-2.2],[-20.5,-3],[-20.7,-3],[-19,-2.7],[-18.7,-3],[-18,-3.5],[-16,-2.7],[-15.5,-2.3],[-15,-2.7],[-14.5,-3],[-13.5,-2.3],[-13,-2.5],[-12,-2.8],[-11.5,-2.5],[-10,-3],[-9.5,-3],[-8.5,-3],[-8,-2.7],[-7,-2.5],[-5,-3],[-4,-3],[-3,-2.8],[-2.5,-3],[-1.5,-3.5],[-1,-3],[2,-3],[2.5,-3.5],[3,-3.5],[-20,-4.2],[-19,-3.5],[-18.5,-4.2],[-18,-4.5],[-17,-4],[-16.5,-4],[-15.5,-4],[-14.5,-3.7],[-14,-3.5],[-13,-3.5],[-12,-3.5],[-11,-3.7],[-9,-3.2],[-8.5,-3.7],[-6,-3.5],[-5,-3.5],[-4.5,-4],[-3.5,-3.7],[-2.5,-3.7],[-2,-4],[-1.5,-4.5],[-0.5,-4.5],[1,-4],[1.8,-3.8],[1.5,-4.5],[3,-4.5],[-20.5,-4.5],[-20.5,-5.5],[-20.5,-6.3],[-20,-5.5],[-19.5,-5.2],[-18.5,-5],[-17.5,-4.7],[-17,-5],[-16,-5.5],[-15.5,-4.5],[-15,-4.5],[-14,-5],[-13,-5],[-12,-5],[-11.5,-4.5],[-10,-5],[-9.5,-4.8],[-8.5,-4.8],[-6,-5],[-5,-4.8],[-3,-4.5],[-2.5,-5],[0.2,-5],[1,-5],[2.5,-5],[-3.5,-5.2],[-20,-6.5],[-19.5,-6.5],[-18.5,-6],[-18,-6],[-17,-6],[-16,-6.5],[-15.5,-6.5],[-15,-6.5],[-14.5,-5.7],[-14,-6.5],[-13.5,-6],[-13,-6],[-11.5,-6],[-10.5,-5.7],[-9,-5.5],[-7,-5.5],[-5,-5.7],[-4,-5.8],[-3.5,-6],[-2,-5.7],[-1.5,-5.3],[-19,-7.5],[-18.5,-7.5],[-18,-7],[-17.5,-7.5],[-17,-6.5],[-16,-6.5],[-15,-7.5],[-14.5,-7.8],[-14,-7.5],[-13,-7],[-12,-7.5],[-11,-7.5],[-10,-7],[-9,-7.5],[-8.5,-6.5],[-8,-7],[-7.5,-7.5],[-6.8,-6.5],[-6,-7],[-5,-7.5],[-4.5,-7],[-4,-7.5],[-3,-7.5],[-2.5,-7],[-2,-7.5],[-1.5,-7],[-0.5,-6.7],[0,-7],[1,-7],[1.5,-7],[-18.5,-8],[-18,-8.5],[-16,-8.5],[-15.5,-8.3],[-15,-8],[-14,-8.5],[-13.5,-8.5],[-13,-8.5],[-12,-8.3],[-11,-8.5],[-10,-8],[-9.5,-8.5],[-8.5,-8],[-8,-8.2],[-7,-8.5],[-5.5,-8.5],[-5,-8],[-4,-8.5],[-3.5,-8.3],[-2.5,-8],[-1.5,-8],[-1,-8.5],[-0.5,-7.5],[-16.8,-10.1],[-15,-9],[-14,-9.5],[-13,-9.5],[-12,-9.5],[-11,-9.5],[-10,-9],[-9,-9],[-8,-9.5],[-6.5,-9.5],[-5,-9.3],[-4,-9.5],[-3,-9.5],[-2,-9.3],[-1.5,-9.5],[-1,-9.5],[-14.5,-10],[-13.5,-10.5],[-12.5,-10.3],[-11.5,-10.5],[-10.5,-10.5],[-9,-10],[-8,-10.3],[-4.5,-10],[-3.5,-10.5],[-2.5,-10.3],[-1,-10.2],[-13,-11.5],[-13.5,-11.5],[-12,-11],[-11,-11.5],[-10.5,-11.5],[-10,-11],[-8.5,-10.9],[-6.7,-10.6],[-4.5,-11.2],[-3.7,-10.8],[-2,-11.2],[-1.7,-11.7],[-13.5,-12],[-12.8,-12.5],[-11,-12],[-10.5,-12.5],[-10,-12.4],[-7.5,-11.8],[-1,-10.5],[1.2,-3],[-8,-5]];
const dRed=[[8.5,17.2],[9,17.3],[9.5,17.2],[10,17],[7.5,17],[8,16.7],[9,16.8],[10,16.5],[10.5,16.6],[5.5,16],[5,15.9],[4.8,15],[7,15.5],[7.5,15.7],[8,15.5],[9,16],[10,15.8],[6.8,15],[7.2,14.5],[8,15],[8.5,14.5],[9,15],[9.5,15],[10,15],[6,14.2],[6.5,14.5],[7,14],[8,14.3],[8.5,14],[9.2,14],[2.5,13.8],[3.5,13.5],[4.2,14],[5,13.5],[4,13],[4.5,12.8],[5.5,13],[6,13],[6.5,13.2],[7.8,13],[3,13],[3,12.3],[3.5,12.5],[4,12],[5,12.5],[5.5,12],[6,12.5],[6.5,12],[7,12.5],[7.5,12.5],[8,12],[2,12.3],[2.5,11.8],[3,11.5],[3.5,11.3],[4,11],[4.5,11.5],[5,11],[5.5,11.5],[7,11.7],[7.5,11.2],[8,11],[3.5,10.8],[4,10.3],[4.5,10.5],[5,10.3],[6.3,10.8],[7,10.7],[7.5,10.3],[8,10.3],[1.5,9.9],[3.5,10],[4,9.8],[6.5,9.7],[7,9.5],[7,9],[6.5,8.7],[6,8.5],[4,8.3],[4.3,8],[5.6,8.3],[-3.9,9.4],[-3.7,9.1],[-1.2,8.2],[-1.4,7.3],[-3.5,6.9],[-5.8,5.7],[1.4,5.9],[1.7,7],[2.2,7.1],[8.5,6.3],[8.4,6.5],[9,5.3],[8.5,4.5],[-11.5,3.3],[3.2,3.3],[5,15.5],[9,15.5],[3,14]];
const ticksA={x:[-20,-10,0,10],y:[-15,-10,-5,0,5,10,15,20]};
const ticksB={x:[-20,-10,0,10,20],y:[-15,-10,-5,0,5,10,15,20]};
const ticksC={x:[-20,-10,0,10,20],y:[-20,-15,-10,-5,0,5,10,15]};
const ticksD={x:[-20,-10,0,10,20],y:[-10,-5,0,5,10,15]};
const BLUE='#377eb8',GREEN='#4daf4a',RED='#e41a1c';
const panels=[
 {l:41.5,t:6.5,w:285,h:278,xr:[-27,18.56],yr:[-17.6,20.55],ticks:ticksA,d:[aBlue,aGreen,aRed],cap:['(a) ','Decomp'],cx:167,cy:313},
 {l:388.5,t:6.5,w:286,h:278,xr:[-21.5,28],yr:[-16.3,20.7],ticks:ticksB,d:[bBlue,bGreen,bRed],cap:['(b) Proposed ','DKMO'],cx:514,cy:313},
 {l:41.5,t:369.5,w:283,h:276,xr:[-25.15,20.68],yr:[-24.4,19.8],ticks:ticksC,d:[cBlue,cGreen,cRed],cap:['(c) ','Uniform'],cx:167,cy:674},
 {l:388.5,t:367.5,w:286,h:278,xr:[-23.08,24.6],yr:[-14.07,18.87],ticks:ticksD,d:[dBlue,dGreen,dRed],cap:['(d) Proposed ','M-DKMO'],cx:514,cy:674}
];
const F='"Liberation Serif","Times New Roman",serif';
const minus=v=>String(v).replace('-','\u2212');
const opt={animation:false,backgroundColor:'#fff',grid:[],xAxis:[],yAxis:[],series:[],title:[]};
panels.forEach((p,i)=>{
 opt.grid.push({left:p.l,top:p.t,width:p.w,height:p.h,show:true,borderColor:'#111',borderWidth:1,backgroundColor:'#fff'});
 const ax=(r,vals,extra)=>Object.assign({type:'value',gridIndex:i,min:r[0],max:r[1],scale:true,splitLine:{show:false},
  axisLine:{show:true,onZero:false,lineStyle:{color:'#111',width:1}},
  axisTick:{show:true,length:5,inside:false,customValues:vals,lineStyle:{color:'#111',width:1}},
  axisLabel:{show:true,customValues:vals,formatter:minus,color:'#222',fontFamily:F,fontSize:15,margin:extra.m,showMinLabel:true,showMaxLabel:true}},{position:extra.position});
 opt.xAxis.push(ax(p.xr,p.ticks.x,{position:'bottom',m:8}));
 opt.yAxis.push(ax(p.yr,p.ticks.y,{position:'left',m:10}));
 [BLUE,GREEN,RED].forEach((c,k)=>opt.series.push({type:'scatter',xAxisIndex:i,yAxisIndex:i,data:p.d[k],symbolSize:7.2,silent:true,
   itemStyle:{color:c,opacity:1,borderColor:'#1a1a1a',borderWidth:0.9}}));
 opt.title.push({left:p.cx,top:p.cy,textAlign:'center',
  text:`{n|${p.cap[0]}}{i|${p.cap[1]}}`,
  textStyle:{fontWeight:'normal',rich:{n:{fontFamily:F,fontSize:21,fontWeight:'normal',color:'#222'},i:{fontFamily:F,fontSize:21,fontWeight:'normal',fontStyle:'italic',color:'#222'}}}});
});
echarts.init(document.getElementById('c'),null,{renderer:'canvas'}).setOption(opt);
</script></body></html>
